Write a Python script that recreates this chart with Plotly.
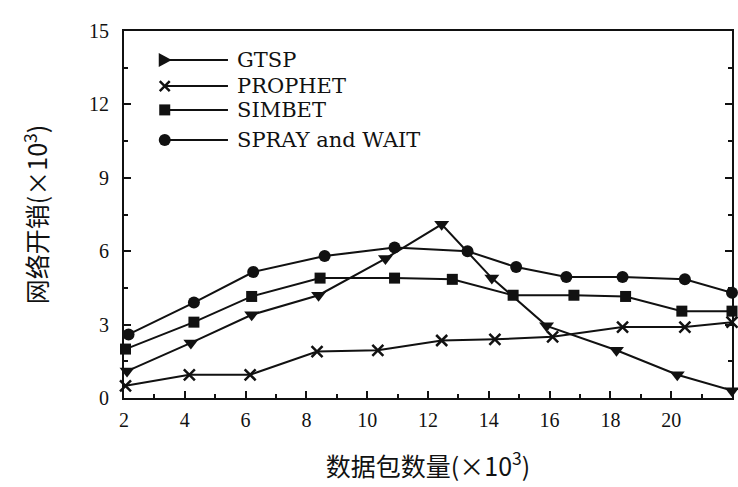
import plotly.graph_objects as go

# ---- data ----
series_names = ["GTSP", "PROPHET", "SIMBET", "SPRAY and WAIT"]

gtsp_x = [2.1, 4.2, 6.2, 8.4, 10.6, 12.45, 14.1, 15.9, 18.2, 20.2, 22]
gtsp_y = [1.1, 2.25, 3.4, 4.2, 5.7, 7.1, 4.9, 2.95, 1.95, 0.95, 0.3]

prophet_x = [2.05, 4.15, 6.15, 8.35, 10.35, 12.45, 14.2, 16.1, 18.4, 20.45, 22]
prophet_y = [0.5, 0.95, 0.95, 1.9, 1.95, 2.35, 2.4, 2.5, 2.9, 2.9, 3.1]

simbet_x = [2.05, 4.3, 6.2, 8.45, 10.9, 12.8, 14.8, 16.8, 18.5, 20.35, 22]
simbet_y = [2.0, 3.1, 4.15, 4.9, 4.9, 4.85, 4.2, 4.2, 4.15, 3.55, 3.55]

spray_x = [2.15, 4.3, 6.25, 8.6, 10.9, 13.3, 14.9, 16.55, 18.4, 20.45, 22]
spray_y = [2.6, 3.9, 5.15, 5.8, 6.15, 6.0, 5.35, 4.95, 4.95, 4.85, 4.3]

x_tickvals = [2, 4, 6, 8, 10, 12, 14, 16, 18, 20, 22]
y_tickvals = [0, 3, 6, 9, 12, 15]

x_title = "数据包数量(×10<sup>3</sup>)"
y_title = "网络开销(×10<sup>3</sup>)"

# ---- styling ----
BLACK = "#111111"
plot_symbols = ["triangle-down", "x-thin", "square", "circle"]
sizes = [13, 11, 11, 12]

fig = go.Figure()

xs = [gtsp_x, prophet_x, simbet_x, spray_x]
ys = [gtsp_y, prophet_y, simbet_y, spray_y]
for name, x, y, sym, sz in zip(series_names, xs, ys, plot_symbols, sizes):
    fig.add_trace(go.Scatter(
        x=x, y=y, mode="lines+markers", name=name, showlegend=False,
        line=dict(color=BLACK, width=2),
        marker=dict(symbol=sym, size=sz, color=BLACK,
                    line=dict(color=BLACK, width=2.5 if "x" in sym else 0)),
        cliponaxis=False,
    ))

# ---- custom legend: marker at left end of a short line, label to the right ----
leg_rows = [0.921, 0.850, 0.785, 0.703]   # paper y of each row
leg_x0, leg_x1, leg_tx = 0.067, 0.171, 0.183
marker_paths = [
    "M-6,-7 L7,0 L-6,7 Z",                         # triangle right
    "M-5,-5 L5,5 M-5,5 L5,-5",                     # x
    "M-5.5,-5.5 L5.5,-5.5 L5.5,5.5 L-5.5,5.5 Z",  # square
    None,                                          # circle
]
for name, path, ry in zip(series_names, marker_paths, leg_rows):
    fig.add_shape(type="line", xref="paper", yref="paper",
                  x0=leg_x0, x1=leg_x1, y0=ry, y1=ry,
                  line=dict(color=BLACK, width=2))
    if path is None:
        fig.add_shape(type="circle", xref="paper", yref="paper",
                      xsizemode="pixel", ysizemode="pixel",
                      xanchor=leg_x0, yanchor=ry,
                      x0=-6, x1=6, y0=-6, y1=6,
                      fillcolor=BLACK, line=dict(color=BLACK, width=0))
    else:
        is_x = path.count("M") > 1
        fig.add_shape(type="path", xref="paper", yref="paper",
                      xsizemode="pixel", ysizemode="pixel",
                      xanchor=leg_x0, yanchor=ry, path=path,
                      fillcolor="rgba(0,0,0,0)" if is_x else BLACK,
                      line=dict(color=BLACK, width=2.5 if is_x else 0))
    fig.add_annotation(
        x=leg_tx, y=ry, xref="paper", yref="paper", text=name, showarrow=False,
        xanchor="left", yanchor="middle",
        font=dict(family="DejaVu Serif", size=21, color=BLACK),
    )

tickfont = dict(family="Liberation Serif", size=20, color=BLACK)
titlefont = dict(family="Noto Sans CJK SC", size=25, color=BLACK)

fig.update_layout(
    width=738, height=487,
    margin=dict(l=124, r=6, t=31, b=89),
    paper_bgcolor="white", plot_bgcolor="white",
    showlegend=False,
    xaxis=dict(
        range=[x_tickvals[0], x_tickvals[-1]], tickmode="linear",
        tick0=x_tickvals[0], dtick=x_tickvals[1] - x_tickvals[0],
        ticks="inside", ticklen=7,
        tickwidth=1.5, tickcolor=BLACK, showline=True, linecolor=BLACK,
        linewidth=2, mirror=True, showgrid=False, zeroline=False,
        tickfont=tickfont, automargin=False, ticklabelstandoff=3,
        minor=dict(dtick=1, ticks="inside", ticklen=4, tickcolor=BLACK, showgrid=False),
        title=dict(text=x_title, font=titlefont, standoff=28),
    ),
    yaxis=dict(
        range=[y_tickvals[0], y_tickvals[-1]], tickmode="linear",
        tick0=y_tickvals[0], dtick=y_tickvals[1] - y_tickvals[0],
        ticks="inside", ticklen=7,
        tickwidth=1.5, tickcolor=BLACK, showline=True, linecolor=BLACK,
        linewidth=2, mirror="ticks", showgrid=False, zeroline=False,
        tickfont=tickfont, automargin=False, ticklabelstandoff=9,
        minor=dict(dtick=1.5, ticks="inside", ticklen=4, tickcolor=BLACK, showgrid=False),
        title=dict(text=y_title, font=titlefont, standoff=34),
    ),
)

fig.write_html(
    "out.html",
    config={"displayModeBar": False},
    post_script="document.body.style.margin='0';document.body.style.overflow='hidden';",
)
